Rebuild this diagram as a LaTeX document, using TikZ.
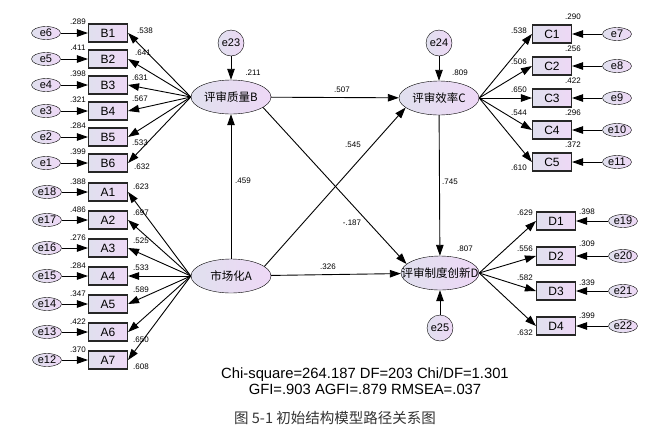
\documentclass[tikz,border=0pt]{standalone}
\usepackage{fontspec}
\setmainfont{Liberation Sans}
\newfontfamily\cjk{Noto Sans CJK SC}
\usetikzlibrary{arrows.meta,shapes.geometric}
\definecolor{shadeL}{RGB}{224,224,238}
\definecolor{shadeR}{RGB}{238,216,246}

\begin{document}
\begin{tikzpicture}[x=1pt,y=-1pt,
  pale/.style={left color=shadeL,right color=shadeR},
  obs/.style={draw=black!85,line width=1.1pt,pale,minimum width=39pt,
    minimum height=18pt,inner sep=0pt,font=\fontsize{12}{12}\selectfont},
  err/.style={draw,ellipse,pale,minimum width=29pt,minimum height=13pt,
    inner sep=0pt,font=\fontsize{11}{11}\selectfont},
  res/.style={draw,circle,pale,minimum size=26pt,inner sep=0pt,
    font=\fontsize{11}{11}\selectfont},
  lat/.style={draw,ellipse,pale,minimum width=80pt,minimum height=34pt,
    inner sep=0pt},
  lattxt/.style={font=\cjk\fontsize{11.5}{11.5}\selectfont,inner sep=0pt},
  num/.style={font=\fontsize{8}{8}\selectfont,inner sep=0pt},
  arr/.style={line width=0.9pt,-{Triangle[length=11pt,width=7.5pt]}}]
\useasboundingbox (0,0) rectangle (667,432);

\node[lat,label={[lattxt]center:评审质量B}] (latB) at (231,97) {};
\node[lat,label={[lattxt]center:评审效率C}] (latC) at (439,98) {};
\node[lat,label={[lattxt]center:市场化A}] (latA) at (231,276) {};
\node[lat,minimum width=78pt,label={[lattxt]center:评审制度创新D}] (latD) at (440,273) {};
\node[res] (e23) at (231,43) {e23};
\node[res] (e24) at (439,43) {e24};
\node[res] (e25) at (440,328) {e25};

\foreach \n/\y/\e/\sq/\ld/\dy/\lx in {1/33/6/.289/.538/-2/145,
    2/59/5/.411/.641/-6/143, 3/85/4/.398/.631/-7/140,
    4/111/3/.321/.567/-12/140, 5/137/2/.284/.533/6/140,
    6/163/1/.399/.632/4/142}
{
  \node[obs] (B\n) at (108,\y) {B\n};
  \node[err] (eB\n) at (46,\y) {e\e};
  \node[num] at (78,\y-11) {\sq};
  \node[num] at (\lx,\y+\dy) {\ld};
  \draw[arr] (eB\n) -- (B\n);
  \draw[arr] (latB.west) -- (B\n.east);
}
\foreach \n/\y/\e/\sq/\ld/\dy in {1/192/18/.388/.623/-5,
    2/220/17/.486/.697/-7, 3/248/16/.276/.525/-7,
    4/276/15/.284/.533/-8, 5/304/14/.347/.589/-14,
    6/332/13/.422/.650/8, 7/360/12/.370/.608/7}
{
  \node[obs] (A\n) at (108,\y) {A\n};
  \node[err] (eA\n) at (47,\y) {e\e};
  \node[num] at (78,\y-10) {\sq};
  \node[num] at (141,\y+\dy) {\ld};
  \draw[arr] (eA\n) -- (A\n);
  \draw[arr] (latA.west) -- (A\n.east);
}
\foreach \n/\y/\e/\sq/\ld/\dy in {1/34/7/.290/.538/-3,
    2/66/8/.256/.506/-4, 3/98/9/.422/.650/-8,
    4/130/10/.296/.544/-17, 5/162/11/.372/.610/6}
{
  \node[obs] (C\n) at (552,\y) {C\n};
  \node[err] (eC\n) at (617,\y) {e\e};
  \node[num] at (573,\y-17) {\sq};
  \node[num] at (519,\y+\dy) {\ld};
  \draw[arr] (eC\n) -- (C\n);
  \draw[arr] (latC.east) -- (C\n.west);
}
\foreach \n/\y/\e/\sq/\ld/\dy/\sy in {1/221/19/.398/.629/-8/-9,
    2/256/20/.309/.556/-7/-12, 3/291/21/.339/.582/-13/-8,
    4/326/22/.399/.632/7/-10}
{
  \node[obs] (D\n) at (556,\y) {D\n};
  \node[err] (eD\n) at (623,\y) {e\e};
  \node[num] at (587,\y+\sy) {\sq};
  \node[num] at (525,\y+\dy) {\ld};
  \draw[arr] (eD\n) -- (D\n);
  \draw[arr] (latD.east) -- (D\n.west);
}

\draw[arr] (e23) -- (latB);
\draw[arr] (e24) -- (latC);
\draw[arr] (e25) -- (latD);
\draw[arr] (latB) -- (latC);
\draw[arr] (latA) -- (latB);
\draw[arr] (latB.-18) -- (latD.165);
\draw[arr] (latA.16) -- (latC.196);
\draw[arr] (latA) -- (latD);
\draw[arr] (latC) -- (latD);

\node[num] at (253,73) {.211};
\node[num] at (460,73) {.809};
\node[num] at (465,249) {.807};
\node[num] at (342,90) {.507};
\node[num] at (243,181) {.459};
\node[num] at (353,145) {.545};
\node[num] at (352,223) {-.187};
\node[num] at (328,267) {.326};
\node[num] at (450,182) {.745};

\node[font=\fontsize{14.8}{14.8}\selectfont,align=center,inner sep=0pt] (fit) at (365,381)
  {Chi-square=264.187 DF=203 Chi/DF=1.301\\[1pt]GFI=.903 AGFI=.879 RMSEA=.037};
\node[font=\cjk\fontsize{14.5}{14.5}\selectfont,text=black!80,inner sep=0pt] (cap) at (335,418)
  {图 5-1 初始结构模型路径关系图};
\end{tikzpicture}
\end{document}
